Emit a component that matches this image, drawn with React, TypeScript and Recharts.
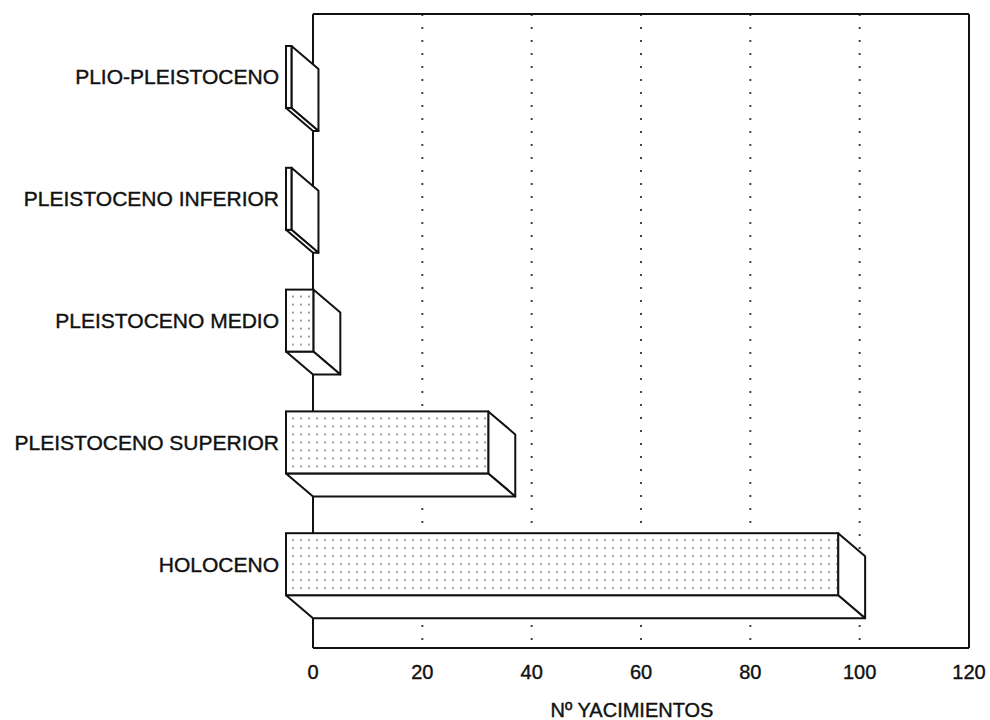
import { BarChart, Bar, XAxis, YAxis, CartesianGrid } from 'recharts';

const categories = [
  'PLIO-PLEISTOCENO',
  'PLEISTOCENO INFERIOR',
  'PLEISTOCENO MEDIO',
  'PLEISTOCENO SUPERIOR',
  'HOLOCENO',
];
const yacimientos = [1, 1, 5, 37, 101];
const xTicks = [0, 20, 40, 60, 80, 100, 120];

const data = categories.map((name, i) => ({ name, value: yacimientos[i] }));

const FONT = '"Liberation Sans", Arial, sans-serif';
const DEPTH_X = 27;
const DEPTH_Y = 23;

// 3D box: Recharts gives the back face, the front face is pulled up-left
const Bar3D = (props: any) => {
  const { x, y, width, height, index } = props;
  const fx = x - DEPTH_X;
  const fy = y - DEPTH_Y;
  const id = `dots-${index}`;
  return (
    <g>
      <defs>
        <pattern id={id} width={8} height={8} patternUnits="userSpaceOnUse" x={fx + 3} y={fy + 3}>
          <rect width={8} height={8} fill="#fff" />
          <circle cx={4} cy={4} r={0.9} fill="#777" />
        </pattern>
      </defs>
      <polygon
        points={`${fx + width},${fy} ${x + width},${y} ${x + width},${y + height} ${fx + width},${fy + height}`}
        fill="#fff"
        stroke="#111"
        strokeWidth={2}
        strokeLinejoin="round"
      />
      <polygon
        points={`${fx},${fy + height} ${fx + width},${fy + height} ${x + width},${y + height} ${x},${y + height}`}
        fill="#fff"
        stroke="#111"
        strokeWidth={2}
        strokeLinejoin="round"
      />
      <rect x={fx} y={fy} width={width} height={height} fill={`url(#${id})`} stroke="#111" strokeWidth={2} />
    </g>
  );
};

const CategoryTick = (props: any) => {
  const { x, y, payload } = props;
  return (
    <text
      x={x}
      y={y - DEPTH_Y}
      textAnchor="end"
      dominantBaseline="central"
      fontFamily={FONT}
      fontSize={21}
      fill="#111"
      stroke="#111"
      strokeWidth={0.4}
    >
      {payload.value}
    </text>
  );
};

const textStyle = { fontFamily: FONT, fontSize: 20, fill: '#111', stroke: '#111', strokeWidth: 0.4 };

export default function App() {
  return (
    <div style={{ position: 'absolute', left: 0, top: 0, width: 990, height: 720, background: '#fff' }}>
      <BarChart
        width={990}
        height={720}
        data={data}
        layout="vertical"
        margin={{ top: 14, right: 21, bottom: 0, left: 0 }}
      >
        <CartesianGrid
          horizontal={false}
          stroke="#444"
          strokeWidth={2}
          strokeDasharray="2 11"
        />
        <CartesianGrid
          stroke="#111"
          strokeWidth={2}
          horizontalCoordinatesGenerator={({ offset }: any) => [offset.top, offset.top + offset.height]}
          verticalCoordinatesGenerator={({ offset }: any) => [offset.left, offset.left + offset.width]}
        />
        <XAxis
          type="number"
          domain={[0, 120]}
          ticks={xTicks}
          interval={0}
          height={72}
          axisLine={false}
          tickLine={false}
          tickSize={0}
          tickMargin={17}
          tick={textStyle}
          label={{
            value: 'Nº YACIMIENTOS',
            position: 'insideBottom',
            offset: 3,
            dx: -9,
            style: textStyle,
          }}
        />
        <YAxis
          type="category"
          dataKey="name"
          width={313}
          padding={{ top: 25, bottom: 0 }}
          axisLine={false}
          tickLine={false}
          tickSize={0}
          tickMargin={34}
          interval={0}
          tick={<CategoryTick />}
        />
        <Bar dataKey="value" barSize={62} shape={<Bar3D />} isAnimationActive={false} />
      </BarChart>
    </div>
  );
}
